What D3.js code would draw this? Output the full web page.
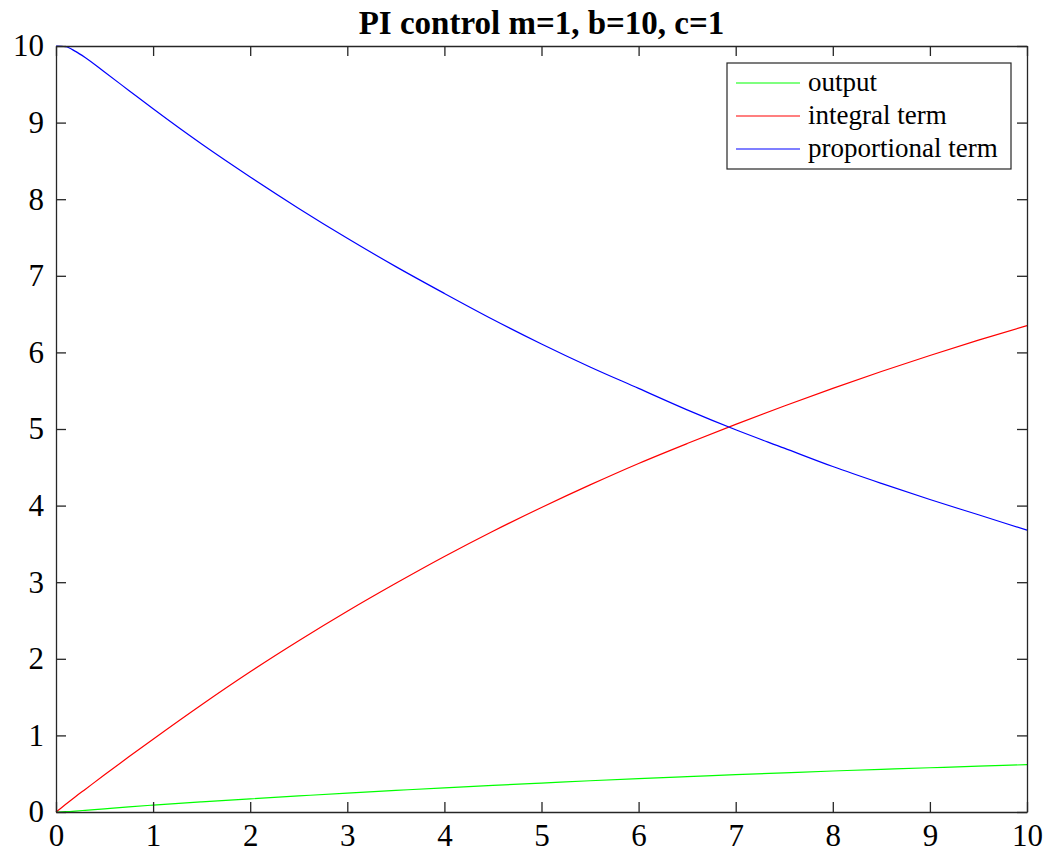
<!DOCTYPE html>
<html>
<head>
<meta charset="utf-8">
<script src="https://cdn.jsdelivr.net/npm/d3@7"></script>
<style>
body { margin:0; background:#fff; }
text { font-family: "Liberation Serif", "Times New Roman", serif; fill:#000; }
</style>
</head>
<body>
<svg id="chart"></svg>
<script>
// time samples
var times = [0, 0.1, 0.2, 0.3, 0.5, 0.75, 1, 1.5, 2, 2.5, 3, 3.5, 4, 4.5, 5, 5.5, 6, 6.5, 7, 7.5, 8, 8.5, 9, 9.5, 10];
// series
var outputVals = [0, 0.004, 0.012, 0.022, 0.042, 0.067, 0.09, 0.132, 0.172, 0.21, 0.247, 0.282, 0.316, 0.348, 0.378, 0.408, 0.436, 0.462, 0.488, 0.512, 0.535, 0.557, 0.578, 0.598, 0.618];
var integralVals = [0, 0.1, 0.2, 0.295, 0.485, 0.72, 0.95, 1.40, 1.83, 2.235, 2.62, 2.985, 3.335, 3.665, 3.975, 4.27, 4.55, 4.81, 5.06, 5.30, 5.53, 5.75, 5.96, 6.16, 6.35];
var propVals = [10, 9.99, 9.93, 9.85, 9.66, 9.42, 9.18, 8.72, 8.29, 7.88, 7.49, 7.12, 6.77, 6.43, 6.11, 5.81, 5.53, 5.25, 4.99, 4.75, 4.51, 4.29, 4.08, 3.88, 3.68];
var seriesNames = ["output", "integral term", "proportional term"];
var seriesColors = ["#00ff00", "#ff0000", "#0000ff"];
var xTicks = [0, 1, 2, 3, 4, 5, 6, 7, 8, 9, 10];
var yTicks = [0, 1, 2, 3, 4, 5, 6, 7, 8, 9, 10];

var screen = {width:1049, height:858};
var margins = {top:46, bottom:46, left:56, right:22};
var graph = {width:screen.width-margins.left-margins.right, height:screen.height-margins.top-margins.bottom};

var svg = d3.select("#chart")
    .attr("width", screen.width)
    .attr("height", screen.height);

var xScale = d3.scaleLinear().domain([0,10]).range([0, graph.width]);
var yScale = d3.scaleLinear().domain([0,10]).range([graph.height, 0]);

var g = svg.append("g")
    .attr("transform", "translate("+margins.left+","+margins.top+")");

//lines
var allSeries = [outputVals, integralVals, propVals];
var linegen = d3.line()
    .x(function(d, i){ return xScale(times[i]); })
    .y(function(d){ return yScale(d); })
    .curve(d3.curveMonotoneX);

g.selectAll("path.line")
    .data(allSeries)
    .enter()
    .append("path")
    .attr("class", "line")
    .attr("d", linegen)
    .attr("fill", "none")
    .attr("stroke-width", 1.2)
    .style("stroke", function(d, i){ return seriesColors[i]; });

//axes (box with inward ticks)
var axisColor = "#262626";
var tickLen = 10;
var styleAxis = function(sel){
    sel.select(".domain").attr("stroke", axisColor).attr("stroke-width", 1.3);
    sel.selectAll(".tick line").attr("stroke", axisColor).attr("stroke-width", 1.3);
    sel.selectAll(".tick text").style("font-size", "31px").style("font-family", "Liberation Serif").attr("fill", "#262626");
};

g.append("g")
    .attr("transform", "translate(0,"+graph.height+")")
    .call(d3.axisBottom(xScale).tickValues(xTicks).tickSize(-tickLen).tickPadding(12).tickSizeOuter(0))
    .call(styleAxis);
g.append("g")
    .call(d3.axisLeft(yScale).tickValues(yTicks).tickSize(-tickLen).tickPadding(12).tickSizeOuter(0))
    .call(styleAxis);
g.append("g")
    .call(d3.axisTop(xScale).tickValues(xTicks).tickSize(-tickLen).tickFormat("").tickSizeOuter(0))
    .call(styleAxis);
g.append("g")
    .attr("transform", "translate("+graph.width+",0)")
    .call(d3.axisRight(yScale).tickValues(yTicks).tickSize(-tickLen).tickFormat("").tickSizeOuter(0))
    .call(styleAxis);

//title
svg.append("text")
    .text("PI control m=1, b=10, c=1")
    .attr("text-anchor", "middle")
    .attr("x", margins.left + graph.width/2)
    .attr("y", 34)
    .style("font-size", "33px")
    .style("font-weight", "bold");

//legend
var legend = svg.append("g")
    .attr("transform", "translate(727,63)");
legend.append("rect")
    .attr("width", 284)
    .attr("height", 106)
    .attr("fill", "#fff")
    .attr("stroke", axisColor)
    .attr("stroke-width", 1.2);
var rows = legend.selectAll("g.row")
    .data(seriesNames)
    .enter()
    .append("g")
    .attr("class", "row")
    .attr("transform", function(d, i){ return "translate(0,"+(20+i*33)+")"; });
rows.append("line")
    .attr("x1", 9).attr("x2", 73)
    .attr("stroke-width", 1.2)
    .attr("stroke", function(d, i){ return seriesColors[i]; });
rows.append("text")
    .text(function(d){ return d; })
    .attr("x", 81)
    .attr("dy", "0.3em")
    .style("font-size", "27px");
</script>
</body>
</html>
